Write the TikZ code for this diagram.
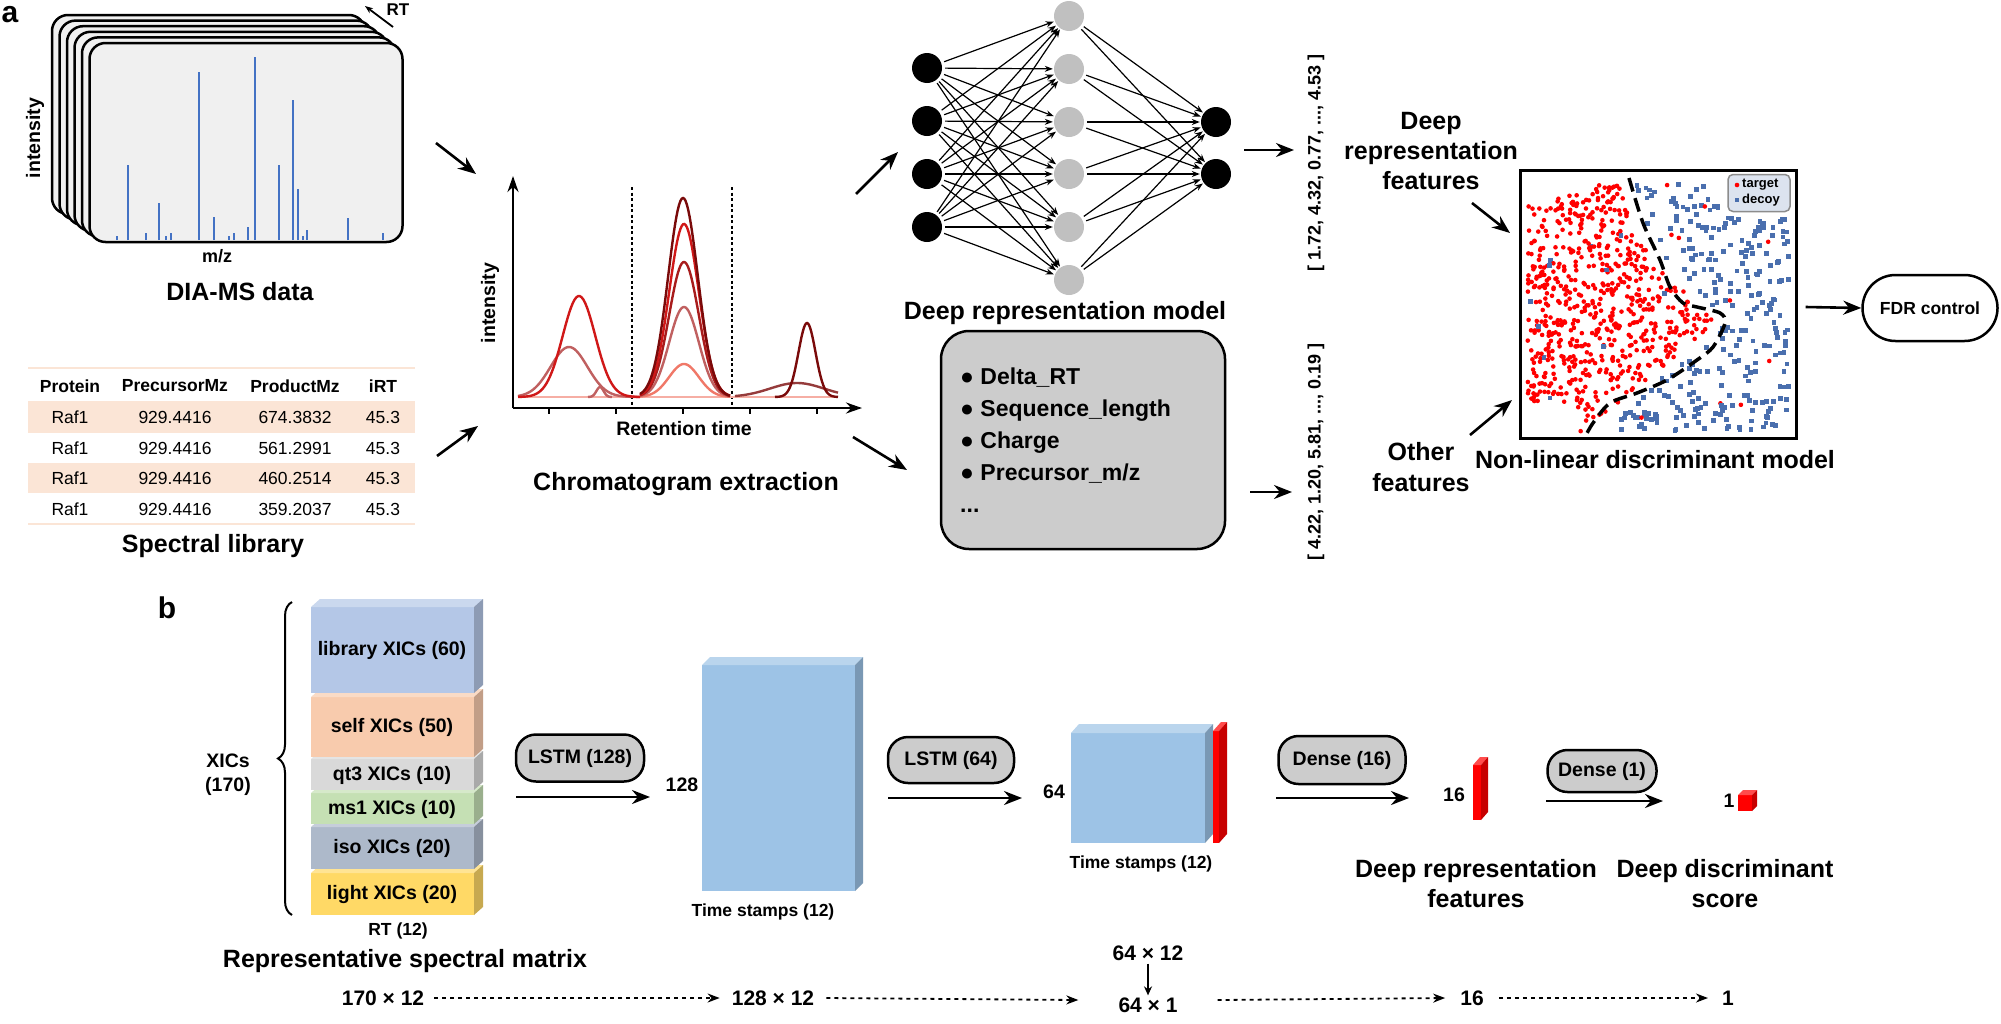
\documentclass[tikz,border=0pt]{standalone}
\usepackage{fontspec}
\setmainfont{Liberation Sans}
\usetikzlibrary{arrows.meta,decorations.pathreplacing,calc}
\definecolor{cblue}{HTML}{4472C4}
\definecolor{peach}{HTML}{FBE5D6}
\definecolor{nngray}{HTML}{C0C0C0}
\definecolor{boxgray}{HTML}{CCCCCC}
\definecolor{scblue}{HTML}{4A6FAE}
\definecolor{legfill}{HTML}{DCE3EF}
\definecolor{clib}{HTML}{B4C7E7}
\definecolor{cself}{HTML}{F8CBAD}
\definecolor{cqt}{HTML}{D9D9D9}
\definecolor{cms}{HTML}{C5E0B4}
\definecolor{ciso}{HTML}{ADB9CA}
\definecolor{clight}{HTML}{FFD966}
\definecolor{cts}{HTML}{9DC3E6}
\definecolor{cred}{HTML}{FF0000}
\definecolor{rA}{HTML}{7A0A0A}
\definecolor{rB}{HTML}{D01818}
\definecolor{rC}{HTML}{A81C1C}
\definecolor{rD}{HTML}{C06060}
\definecolor{rE}{HTML}{F07868}
\newcommand\fs[2]{\fontsize{#1}{#2}\selectfont}
% cuboid: x1 y1 (front top-left), x2 y2 (front bottom-right), dx dy (depth), colour
\newcommand\mycuboid[7]{%
  \fill[#7] (#1,#2) rectangle (#3,#4);
  \fill[#7!70!white] (#1,#2) -- ++(#5,#6) -- ({#3+#5},{#2+#6}) -- (#3,#2) -- cycle;
  \fill[#7!78!black] (#3,#2) -- ({#3+#5},{#2+#6}) -- ({#3+#5},{#4+#6}) -- (#3,#4) -- cycle;
}
\tikzset{
  card/.style={draw=black, line width=2.5, fill=black!6, rounded corners=16},
  peakline/.style={draw=cblue, line width=2.6},
  arr/.style={-{Stealth[length=18,width=14]}, line width=2.6},
  nnedge/.style={-{Stealth[length=8,width=6]}, line width=1.2, shorten >=1, shorten <=3},
  nnb/.style={circle, fill=black, minimum size=30, inner sep=0},
  nng/.style={circle, fill=nngray, minimum size=30, inner sep=0},
  tbig/.style={font=\fs{25}{30}\bfseries, inner sep=0, align=center},
  tmid/.style={font=\fs{19.5}{24}\bfseries, inner sep=0, align=center},
  ttab/.style={font=\fs{17.5}{21}, inner sep=0},
  ttabh/.style={font=\fs{17.5}{21}\bfseries, inner sep=0},
  lstm/.style={draw=black, line width=2.5, fill=boxgray, rounded corners=20, inner sep=0, font=\fs{19.5}{24}\bfseries},
  dasharr/.style={-{Stealth[length=12,width=9]}, line width=1.8, dash pattern=on 4 off 4},
  chrom/.style={line width=2.4},
}
\begin{document}
\begin{tikzpicture}[x=1pt,y=-1pt]
\useasboundingbox (0,0) rectangle (2001,1023);
\fill[white] (0,0) rectangle (2001,1023);

% ---------------- part a ----------------
\node[font=\fs{30}{30}\bfseries, inner sep=0] (la) at (10,15) {a};

% spectra stack
\foreach \i in {0,...,5}{
  \draw[card] ({52+7.5*\i},{15+5.6*\i}) rectangle ++(313,199);
}
\foreach \x/\t in {117/236,128/165,146/233,159/203,166/236,171/233,199/72,214/217,229/236,234/233,248/227,255/57,279/165,293/100,298/189,303/236,307/230,348/218,383/233}{
  \draw[peakline] (\x,240) -- (\x,\t);
}
\coordinate (rt1) at (393,27);
\coordinate (rt2) at (365,6);
\draw[-{Stealth[length=8,width=6]}, line width=1.8] (rt1) -- (rt2);
\node[font=\fs{17}{20}\bfseries, inner sep=0] (rtl) at (398,10) {RT};
\node[font=\fs{19.5}{24}\bfseries, inner sep=0, rotate=90] (inty) at (35,138) {intensity};
\node[font=\fs{18}{22}\bfseries, inner sep=0] (mz) at (217,256) {m/z};
\node[tbig] (dia) at (240,292) {DIA-MS data};

% spectral library table
\fill[peach] (28,401) rectangle (415,433);
\fill[peach] (28,463) rectangle (415,493);
\draw[peach, line width=2] (28,368) -- (415,368);
\draw[peach, line width=2] (28,524) -- (415,524);
\foreach \x/\s in {70/Protein,175/PrecursorMz,295/ProductMz,383/iRT}{
  \node[ttabh] at (\x,386) {\s};
}
\foreach \y/\p in {417/674.3832,448/561.2991,478/460.2514,509/359.2037}{
  \node[ttab] at (70,\y) {Raf1};
  \node[ttab] at (175,\y) {929.4416};
  \node[ttab] at (295,\y) {\p};
  \node[ttab] at (383,\y) {45.3};
}
\node[tbig] (slib) at (213,546) {Spectral library};

% arrows into chromatogram
\coordinate (a1s) at (436,143); \coordinate (a1e) at (476,174);
\coordinate (a2s) at (437,456); \coordinate (a2e) at (478,426);
\draw[arr] (a1s) -- (a1e);
\draw[arr] (a2s) -- (a2e);

% chromatogram
\coordinate (orig) at (513,408);
\coordinate (ytip) at (513,176);
\coordinate (xtip) at (862,408);
\draw[-{Stealth[length=16,width=11]}, line width=2.6] (orig) -- (ytip);
\draw[-{Stealth[length=16,width=11]}, line width=2.6] (orig) -- (xtip);
\foreach \x in {549,616,683,750,817} \draw[line width=2] (\x,408) -- (\x,414);
\draw[line width=2, dash pattern=on 3 off 2.5] (632,187) -- (632,405);
\draw[line width=2, dash pattern=on 3 off 2.5] (732,187) -- (732,405);
\draw[chrom, rE!60!white] (518,397) -- (838,397);
\draw[chrom, rD] plot[domain=518:640, samples=70] (\x,{397-50*exp(-((\x-569)/26)^2)});
\draw[chrom, rB] plot[domain=518:640, samples=70] (\x,{397-101*exp(-((\x-579)/23)^2)});
\draw[chrom, rD] plot[domain=588:612, samples=20] (\x,{397-10*exp(-((\x-600)/5)^2)});
\draw[chrom, rE] plot[domain=640:730, samples=70] (\x,{397-33*exp(-((\x-684)/21)^2)});
\draw[chrom, rD] plot[domain=640:730, samples=70] (\x,{397-90*exp(-((\x-684)/21)^2)});
\draw[chrom, rC] plot[domain=640:730, samples=70] (\x,{397-135*exp(-((\x-684)/21)^2)});
\draw[chrom, rB] plot[domain=640:730, samples=70] (\x,{397-173*exp(-((\x-684)/21)^2)});
\draw[chrom, rA] plot[domain=640:730, samples=70] (\x,{397-199*exp(-((\x-683)/21)^2)});
\draw[chrom, rA!80!white] plot[domain=735:838, samples=60] (\x,{397-14*exp(-((\x-797)/38)^2)});
\draw[chrom, rA] plot[domain=775:838, samples=60] (\x,{397-74*exp(-((\x-807)/12)^2)});
\node[tmid, rotate=90] (cint) at (490,303) {intensity};
\node[tmid] (rtime) at (684,429) {Retention time};
\node[tbig] (cext) at (686,484) {Chromatogram extraction};

% arrows out of chromatogram
\coordinate (a3s) at (856,194); \coordinate (a3e) at (898,152);
\coordinate (a4s) at (853,437); \coordinate (a4e) at (907,470);
\draw[arr] (a3s) -- (a3e);
\draw[arr] (a4s) -- (a4e);

% neural network
\foreach \i/\y in {1/68,2/121,3/174,4/227} \node[nnb] (i\i) at (927,\y) {};
\foreach \j/\y in {1/16,2/69,3/122,4/174,5/227,6/280} \node[nng] (h\j) at (1069,\y) {};
\foreach \k/\y in {1/122,2/174} \node[nnb] (o\k) at (1216,\y) {};
\foreach \i in {1,...,4}{\foreach \j in {1,...,6}{\draw[nnedge] (i\i) -- (h\j);}}
\foreach \j in {1,...,6}{\foreach \k in {1,2}{\draw[nnedge] (h\j) -- (o\k);}}
\node[tbig] (drm) at (1065,313) {Deep representation model};

% feature box
\node[draw=black, line width=2.5, fill=boxgray, rounded corners=28, minimum width=284, minimum height=218, inner sep=0] (feat) at (1083,440) {};
\node[anchor=west, align=left, inner sep=0, font=\fs{23}{32}\bfseries] (featt) at (960,440) {● Delta\_RT\\● Sequence\_length\\● Charge\\● Precursor\_m/z\\...};

% vectors
\coordinate (a5s) at (1244,150); \coordinate (a5e) at (1294,150);
\draw[arr] (a5s) -- (a5e);
\node[rotate=90, font=\fs{18}{20}\bfseries, inner sep=0] (v1) at (1316,163) {[ 1.72, 4.32, 0.77, ..., 4.53 ]};
\coordinate (a6s) at (1250,492); \coordinate (a6e) at (1292,492);
\draw[arr] (a6s) -- (a6e);
\node[rotate=90, font=\fs{18}{20}\bfseries, inner sep=0] (v2) at (1316,452) {[ 4.22, 1.20, 5.81, ..., 0.19 ]};

\node[font=\fs{25}{30}\bfseries, align=center, inner sep=0] (drf) at (1431,151) {Deep\\representation\\features};
\node[font=\fs{25}{31}\bfseries, align=center, inner sep=0] (oth) at (1421,467) {Other\\features};
\coordinate (a7s) at (1472,203); \coordinate (a7e) at (1510,233);
\coordinate (a8s) at (1470,435); \coordinate (a8e) at (1512,400);
\draw[arr] (a7s) -- (a7e);
\draw[arr] (a8s) -- (a8e);

% scatter plot
\node[draw=black, line width=3, minimum width=276, minimum height=268, inner sep=0] (sc) at (1658,304) {};
\pgfmathsetseed{4242}
\foreach \k in {1,...,1500}{%
  \pgfmathsetmacro\px{1527+262*rnd}%
  \pgfmathsetmacro\py{182+250*rnd}%
  \pgfmathsetmacro\xb{(\py<320)?(1629+96*((\py-178)/142)^2):(1725-140*((\py-320)/115))}%
  \pgfmathsetmacro\u{rnd}%
  \pgfmathtruncatemacro\cls{(\px<\xb-6)?((\u<0.012)?2:1):((\px>\xb+6)?((\u<0.45)?2:((\u>0.985)?1:0)):0)}%
  \pgfmathtruncatemacro\skip{((\px>1722)&&(\py<218))||((\px<1578)&&(\py>402))||((\px<1556)&&(\py<202))||((\py<192)&&(\px<1590))?1:0}%
  \ifnum\skip=0
    \ifnum\cls=1 \fill[cred] (\px,\py) circle (2.3); \fi
    \ifnum\cls=2 \fill[scblue] (\px-2.4,\py-2.4) rectangle ++(4.8,4.8); \fi
  \fi
}
\draw[line width=3.5, dash pattern=on 14 off 7] plot[smooth] coordinates {(1629,178) (1643,223) (1660,260) (1670,287) (1683,303) (1697,307) (1720,313) (1725,323) (1713,347) (1697,360) (1667,380) (1637,393) (1610,403) (1593,423) (1585,437)};
\node[draw=black!45, line width=1.5, fill=legfill, rounded corners=5, minimum width=62, minimum height=37, inner sep=0] (leg) at (1759,193) {};
\fill[cred] (1737,185) circle (2.3);
\fill[scblue] (1734.6,197.6) rectangle ++(4.8,4.8);
\node[anchor=west, inner sep=0, font=\fs{13}{15}\bfseries] at (1742,185) {target};
\node[anchor=west, inner sep=0, font=\fs{13}{15}\bfseries] at (1742,200) {decoy};
\node[tbig] (nld) at (1655,460) {Non-linear discriminant model};

\node[draw=black, line width=2.5, rounded corners=33, minimum width=135, minimum height=66, inner sep=0, font=\fs{17.5}{21}\bfseries] (fdr) at (1930,308) {FDR control};
\draw[arr] (sc.east) ++(8,3) coordinate (a9s) -- (fdr.west);

% ---------------- part b ----------------
\node[font=\fs{30}{30}\bfseries, inner sep=0] (lb) at (167,608) {b};
\mycuboid{311}{873}{474}{915}{9}{-8}{clight}
\mycuboid{311}{827}{474}{869}{9}{-8}{ciso}
\mycuboid{311}{793}{474}{824}{9}{-8}{cms}
\mycuboid{311}{759}{474}{790}{9}{-8}{cqt}
\mycuboid{311}{697}{474}{757}{9}{-8}{cself}
\mycuboid{311}{607}{474}{693}{9}{-8}{clib}
\node[tmid] (blib) at (392,650) {library XICs (60)};
\node[tmid] (bself) at (392,727) {self XICs (50)};
\node[tmid] (bqt) at (392,775) {qt3 XICs (10)};
\node[tmid] (bms) at (392,809) {ms1 XICs (10)};
\node[tmid] (biso) at (392,848) {iso XICs (20)};
\node[tmid] (blight) at (392,894) {light XICs (20)};
\draw[line width=2, decorate, decoration={brace, amplitude=14}] (292,915) -- (292,602);
\node[tmid] (xics) at (228,775) {XICs\\(170)};
\node[font=\fs{17.5}{21}\bfseries, inner sep=0] (rt12) at (398,931) {RT (12)};
\node[tbig] (rsm) at (405,961) {Representative spectral matrix};

\node[lstm, minimum width=128, minimum height=47] (l1) at (580,758) {LSTM (128)};
\coordinate (b1s) at (516,797); \coordinate (b1e) at (650,797);
\draw[arr] (b1s) -- (b1e);
\node[tmid] (n128) at (682,785) {128};
\mycuboid{702}{665}{855}{891}{8}{-8}{cts}
\node[font=\fs{17.5}{21}\bfseries, inner sep=0] (ts1) at (763,912) {Time stamps (12)};

\node[lstm, minimum width=126, minimum height=46] (l2) at (951,760) {LSTM (64)};
\coordinate (b2s) at (888,798); \coordinate (b2e) at (1022,798);
\draw[arr] (b2s) -- (b2e);
\node[tmid] (n64) at (1054,792) {64};
\mycuboid{1071}{733}{1205}{843}{8}{-9}{cts}
\mycuboid{1213}{731}{1219}{843}{8}{-9}{cred}
\node[font=\fs{17.5}{21}\bfseries, inner sep=0] (ts2) at (1141,864) {Time stamps (12)};

\node[lstm, minimum width=127, minimum height=48] (l3) at (1342,760) {Dense (16)};
\coordinate (b3s) at (1276,798); \coordinate (b3e) at (1409,798);
\draw[arr] (b3s) -- (b3e);
\node[tmid] (n16) at (1454,795) {16};
\mycuboid{1473}{765}{1481}{820}{7}{-8}{cred}

\node[lstm, minimum width=109, minimum height=42] (l4) at (1602,771) {Dense (1)};
\coordinate (b4s) at (1546,801); \coordinate (b4e) at (1663,801);
\draw[arr] (b4s) -- (b4e);
\node[tmid] (n1) at (1729,801) {1};
\mycuboid{1738}{795}{1752}{811}{5}{-5}{cred}

\node[tbig] (bdrf) at (1476,884) {Deep representation\\features};
\node[tbig] (bdds) at (1725,884) {Deep discriminant\\score};

% bottom dimension row
\node[font=\fs{21}{25}\bfseries, inner sep=0] (d1) at (383,998) {170 × 12};
\node[font=\fs{21}{25}\bfseries, inner sep=0] (d2) at (773,998) {128 × 12};
\node[font=\fs{21}{25}\bfseries, inner sep=0] (d3a) at (1148,953) {64 × 12};
\node[font=\fs{21}{25}\bfseries, inner sep=0] (d3) at (1148,1005) {64 × 1};
\node[font=\fs{21}{25}\bfseries, inner sep=0] (d4) at (1472,998) {16};
\node[font=\fs{21}{25}\bfseries, inner sep=0] (d5) at (1728,998) {1};
\draw[dasharr] (d1.east) ++(10,0) -- ($(d2.west)+(-12,0)$);
\draw[dasharr] (d2.east) ++(12,0) -- ($(d3.west)+(-40,-5)$);
\draw[-{Stealth[length=9,width=8]}, line width=1.8] (d3a.south) ++(0,3) -- ($(d3.north)+(0,-2)$);
\draw[dasharr] ($(d3.east)+(40,-5)$) -- ($(d4.west)+(-15,0)$);
\draw[dasharr] (d4.east) ++(15,0) -- ($(d5.west)+(-14,0)$);
\end{tikzpicture}
\end{document}
